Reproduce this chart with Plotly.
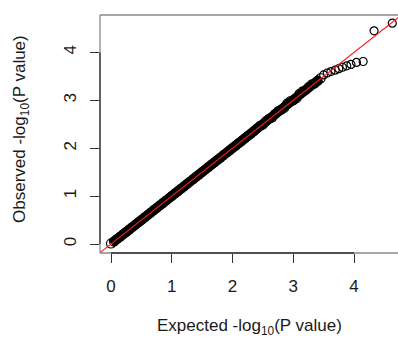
import plotly.graph_objects as go

# Q-Q plot of association p-values: expected vs observed -log10(P)
# Dense body of the distribution (points overlap into a solid band)
expected_body = [0.00, 0.05, 0.10, 0.15, 0.20, 0.25, 0.30, 0.35, 0.40, 0.45,
                 0.50, 0.55, 0.60, 0.65, 0.70, 0.75, 0.80, 0.85, 0.90, 0.95,
                 1.00, 1.05, 1.10, 1.15, 1.20, 1.25, 1.30, 1.35, 1.40, 1.45,
                 1.50, 1.55, 1.60, 1.65, 1.70, 1.75, 1.80, 1.85, 1.90, 1.95,
                 2.00, 2.05, 2.10, 2.15, 2.20, 2.25, 2.30, 2.35, 2.40, 2.45,
                 2.50, 2.55, 2.60, 2.65, 2.70, 2.75, 2.80, 2.85, 2.90, 2.95,
                 3.00, 3.05, 3.10, 3.15, 3.20, 3.25, 3.30, 3.35, 3.40, 3.45]
observed_body = [0.01, 0.05, 0.10, 0.15, 0.20, 0.25, 0.30, 0.35, 0.40, 0.45,
                 0.50, 0.55, 0.60, 0.65, 0.70, 0.75, 0.80, 0.85, 0.90, 0.95,
                 1.00, 1.05, 1.10, 1.15, 1.20, 1.25, 1.30, 1.35, 1.40, 1.45,
                 1.50, 1.55, 1.60, 1.65, 1.70, 1.75, 1.80, 1.85, 1.90, 1.95,
                 2.00, 2.05, 2.10, 2.15, 2.20, 2.25, 2.30, 2.35, 2.41, 2.46,
                 2.49, 2.56, 2.61, 2.64, 2.71, 2.77, 2.80, 2.84, 2.93, 2.98,
                 3.00, 3.04, 3.13, 3.18, 3.21, 3.27, 3.33, 3.35, 3.40, 3.46]

# Upper tail: individually visible points
expected_tail = [3.50, 3.56, 3.62, 3.69, 3.75, 3.81, 3.88, 3.95, 4.04, 4.15, 4.33, 4.63]
observed_tail = [3.53, 3.57, 3.60, 3.63, 3.66, 3.69, 3.72, 3.75, 3.79, 3.81, 4.45, 4.61]

# Null expectation y = x
null_line = [-0.5, 5.5]

x_ticks = [0, 1, 2, 3, 4]
y_ticks = [0, 1, 2, 3, 4]

FONT = "Liberation Sans, Arial, sans-serif"
INK = "#1a1a1a"
BOX = "#8a8a8a"
AXIS = "#333333"

fig = go.Figure()

fig.add_trace(go.Scatter(
    x=expected_body, y=observed_body, mode="lines+markers",
    line=dict(color="black", width=9.5),
    marker=dict(symbol="circle-open", size=9, color="black", line=dict(width=1.2)),
    hoverinfo="skip", showlegend=False,
))
fig.add_trace(go.Scatter(
    x=expected_tail, y=observed_tail, mode="markers",
    marker=dict(symbol="circle-open", size=8, color="black", line=dict(width=1.2)),
    showlegend=False,
))
fig.add_trace(go.Scatter(
    x=null_line, y=null_line, mode="lines",
    line=dict(color="#ff1a1a", width=1.1),
    hoverinfo="skip", showlegend=False,
))

axis_common = dict(
    showgrid=False, zeroline=False, showline=False,
    ticks="outside", ticklen=9, tickwidth=1, tickcolor=AXIS,
    tickfont=dict(family=FONT, size=17, color=INK),
)

fig.update_xaxes(range=[-0.181, 4.724], tickvals=x_ticks,
                 ticktext=[str(v) for v in x_ticks],
                 ticklabelstandoff=9, **axis_common)
fig.update_yaxes(range=[-0.188, 4.781], tickvals=y_ticks,
                 ticktext=[str(v) for v in y_ticks],
                 tickangle=-90, ticklabelstandoff=7, **axis_common)

shapes = [
    # plot frame (right side runs off the canvas)
    dict(type="line", xref="paper", yref="paper", x0=0, x1=0, y0=0, y1=1,
         line=dict(color=BOX, width=1.3)),
    dict(type="line", xref="paper", yref="paper", x0=0, x1=1, y0=1, y1=1,
         line=dict(color=BOX, width=1.3)),
    dict(type="line", xref="paper", yref="paper", x0=0, x1=1, y0=0, y1=0,
         line=dict(color=BOX, width=1.3)),
    # axis lines spanning first to last tick
    dict(type="line", xref="x", yref="paper", x0=min(x_ticks), x1=max(x_ticks),
         y0=0, y1=0, line=dict(color=AXIS, width=1.3)),
    dict(type="line", xref="paper", yref="y", x0=0, x1=0,
         y0=min(y_ticks), y1=max(y_ticks), line=dict(color=AXIS, width=1.3)),
]

annotations = [
    dict(text="Expected -log<sub>10</sub>(P value)", xref="paper", yref="paper",
         x=0.502, y=0, yshift=-74, xanchor="center", yanchor="middle",
         showarrow=False, font=dict(family=FONT, size=17, color=INK)),
    dict(text="Observed -log<sub>10</sub>(P value)", xref="paper", yref="paper",
         x=0, y=0.521, xshift=-79, xanchor="center", yanchor="middle",
         textangle=-90, showarrow=False, font=dict(family=FONT, size=17, color=INK)),
]

fig.update_layout(
    width=398, height=338,
    margin=dict(l=100, r=0, t=15, b=85),
    paper_bgcolor="white", plot_bgcolor="white",
    shapes=shapes, annotations=annotations,
)

fig.write_html("out.html", config={"displayModeBar": False})
